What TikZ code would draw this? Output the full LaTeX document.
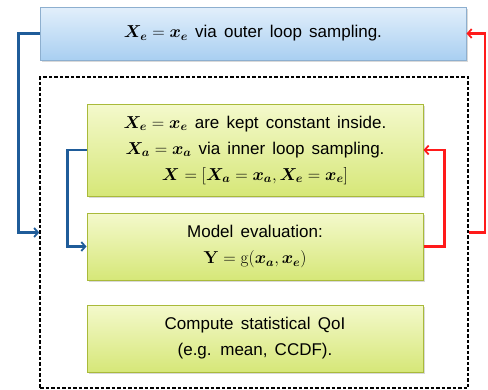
\documentclass[tikz,border=0pt]{standalone}
\usepackage{amsmath}
\usepackage{bm}
\usepackage[no-math]{fontspec}
\setmainfont{Liberation Sans}
\usetikzlibrary{arrows.meta,shadows}
\definecolor{bluetop}{HTML}{E2EFFB}
\definecolor{bluebot}{HTML}{A9CFF1}
\definecolor{blueedge}{HTML}{8DAFCF}
\definecolor{ygtop}{HTML}{F4F9CC}
\definecolor{ygbot}{HTML}{D6E778}
\definecolor{ygedge}{HTML}{A9BA3A}
\definecolor{linkblue}{HTML}{1F5C99}
\definecolor{linkred}{HTML}{FF1A1A}
\newcommand{\myboxfont}{\fontsize{17}{26}\selectfont\spaceskip=0.42em plus 0.1em\relax}
\tikzset{
  box/.style={rectangle, draw=ygedge, line width=1pt, top color=ygtop, bottom color=ygbot,
    minimum width=336pt, align=center, font=\myboxfont, inner sep=0pt,
    drop shadow={opacity=0.3, shadow xshift=1.5pt, shadow yshift=-2pt}},
  topbox/.style={box, draw=blueedge, top color=bluetop, bottom color=bluebot, minimum width=426pt},
  bluelink/.style={draw=linkblue, line width=2.4pt, -{Straight Barb[length=4pt,width=9pt,line width=1.8pt]}},
  redlink/.style={draw=linkred, line width=2.4pt, -{Straight Barb[length=4pt,width=9pt,line width=1.8pt]}},
  dashbox/.style={draw=black, line width=1.4pt, dash pattern=on 3.5pt off 2pt, minimum width=428pt, minimum height=311pt, inner sep=0pt}
}
\begin{document}
\begin{tikzpicture}[x=1pt,y=-1pt]
\useasboundingbox (0,0) rectangle (488,389);
\node[dashbox] (dash) at (254,232.5) {};
\node[topbox, minimum height=53pt] (top) at (253,33.5)
  {$\bm{X}_{\bm{e}} = \bm{x}_{\bm{e}}$ via outer loop sampling.};
\node[box, minimum height=92pt] (b1) at (255,150)
  {$\bm{X}_{\bm{e}} = \bm{x}_{\bm{e}}$ are kept constant inside.\\
   $\bm{X}_{\bm{a}} = \bm{x}_{\bm{a}}$ via inner loop sampling.\\
   $\bm{X} = [\bm{X}_{\bm{a}} = \bm{x}_{\bm{a}}, \bm{X}_{\bm{e}} = \bm{x}_{\bm{e}}]$};
\node[box, minimum height=67pt] (b2) at (255,246.5)
  {Model evaluation:\\ $\mathbf{Y} = \mathrm{g}(\bm{x}_{\bm{a}}, \bm{x}_{\bm{e}})$};
\node[box, minimum height=67pt] (b3) at (255,338.5)
  {Compute statistical QoI\\ (e.g. mean, CCDF).};
\draw[bluelink] (top.west) -- ++(-21,0) |- (dash.west);
\draw[redlink] (dash.east) -- ++(16,0) |- (top.east);
\draw[bluelink] (b1.west) -- ++(-19,0) |- (b2.west);
\draw[redlink] (b2.east) -- ++(21,0) |- (b1.east);
\end{tikzpicture}
\end{document}
